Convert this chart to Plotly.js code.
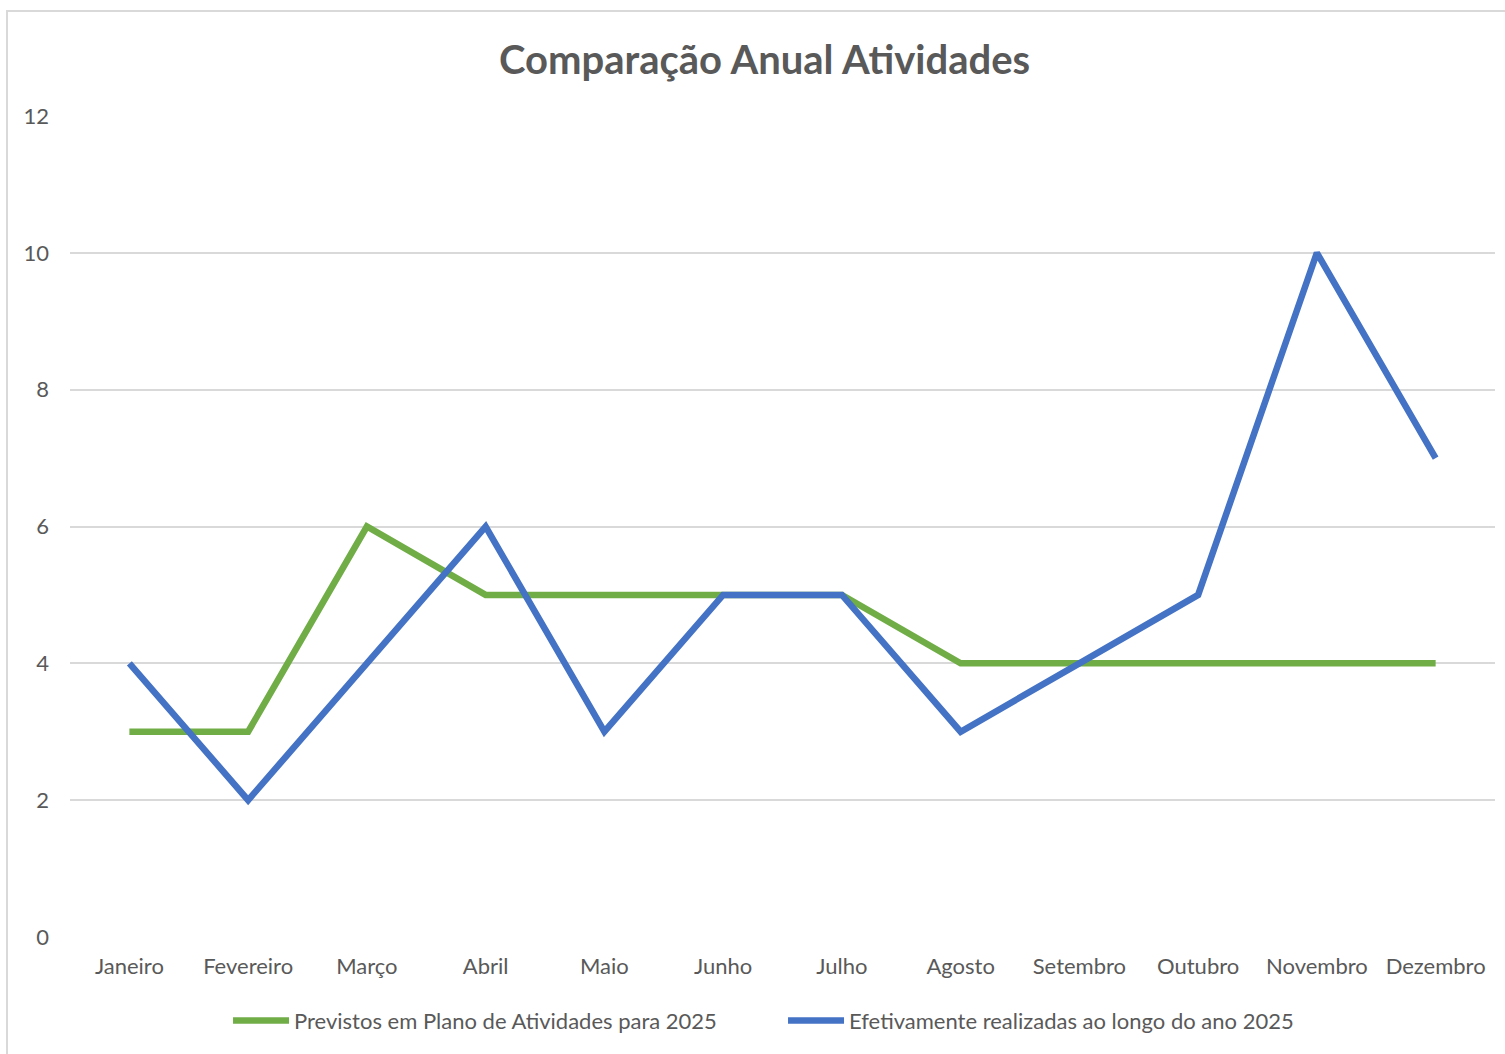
<!DOCTYPE html>
<html><head><meta charset="utf-8">
<script src="https://cdn.plot.ly/plotly-3.0.1.min.js"></script>
<style>
html,body{margin:0;padding:0;background:#fff;}
#frame{position:absolute;left:6px;top:10px;width:1510px;height:1060px;border:2px solid #d9d9d9;box-sizing:border-box;pointer-events:none;z-index:5;}
#chart{position:absolute;left:0;top:0;width:1505px;height:1054px;}
</style></head>
<body>
<div id="chart"></div><div id="frame"></div>
<script>
const months = ["Janeiro","Fevereiro","Março","Abril","Maio","Junho","Julho","Agosto","Setembro","Outubro","Novembro","Dezembro"];
const previstos = [3,3,6,5,5,5,5,4,4,4,4,4];
const realizadas = [4,2,4,6,3,5,5,3,4,5,10,7];
const nomePrevistos = "Previstos em Plano de Atividades para 2025";
const nomeRealizadas = "Efetivamente realizadas ao longo do ano 2025";
const yTicks = [0,2,4,6,8,10,12];

const font = "Lato, 'Open Sans', sans-serif";
const traces = [
  {x: months, y: previstos, name: nomePrevistos, type: "scatter", mode: "lines",
   line: {color: "#70AD47", width: 6.5, shape: "linear"}},
  {x: months, y: realizadas, name: nomeRealizadas, type: "scatter", mode: "lines",
   line: {color: "#4472C4", width: 6.5, shape: "linear"}}
];
const layout = {
  width: 1505, height: 1054,
  margin: {l: 70, r: 10, t: 116, b: 117},
  paper_bgcolor: "#fff", plot_bgcolor: "#fff",
  font: {family: font, color: "#595959", size: 22},
  title: {text: "<b>Comparação Anual Atividades</b>", font: {family: font, size: 40, color: "#595959"},
          xref: "container", yref: "container", x: 0.508, xanchor: "center", y: 0.943, yanchor: "middle"},
  xaxis: {type: "category", range: [-0.5, 11.5], showgrid: false, zeroline: false, showline: false,
          ticks: "", ticklabelstandoff: 14, tickfont: {size: 22, color: "#595959"}},
  yaxis: {range: [0, 12], tickvals: yTicks, showgrid: true, gridcolor: "#d9d9d9", gridwidth: 2,
          zeroline: false, showline: false, ticks: "", ticklabelstandoff: 20,
          tickfont: {size: 22, color: "#595959"}},
  showlegend: true,
  legend: {orientation: "h", x: 0.1109, xanchor: "left", y: -0.102, yanchor: "middle",
           font: {size: 22, color: "#595959"}, itemwidth: 56, entrywidth: 484, entrywidthmode: "pixels", tracegroupgap: 0},
  hovermode: false
};
Plotly.newPlot("chart", traces, layout, {displayModeBar: false, staticPlot: true});
</script>
</body></html>
